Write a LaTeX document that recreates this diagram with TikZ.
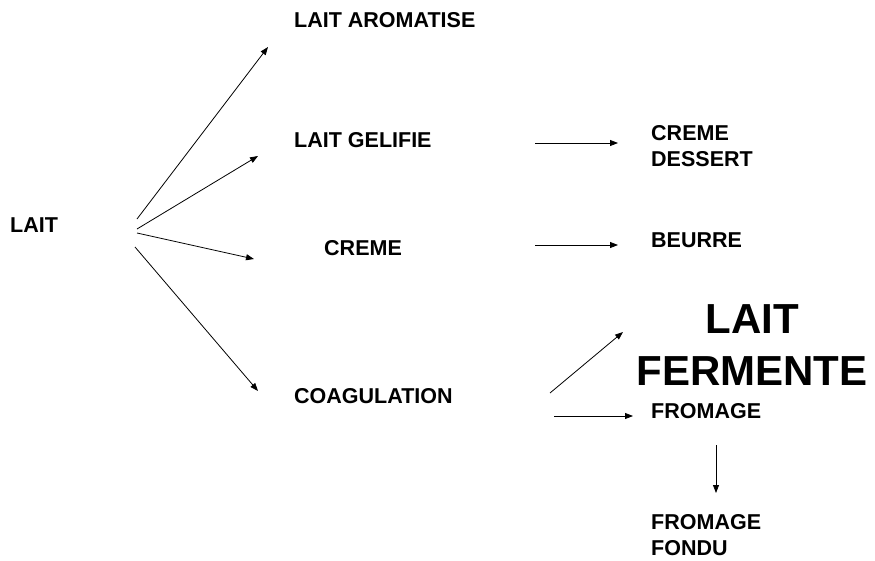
\documentclass[tikz,border=0pt]{standalone}
\usepackage{fontspec}
\setmainfont{Liberation Sans}
\usepackage{tikz}
\usetikzlibrary{arrows.meta}
\tikzstyle{arrow} = [line width=0.8pt,-{Triangle[length=8pt,width=6pt]}]
\tikzstyle{label} = [inner sep=0pt,anchor=base west,align=left,font=\fontsize{21.5}{26}\selectfont\bfseries]
\tikzstyle{biglabel} = [inner sep=0pt,anchor=base,align=center,font=\fontsize{42}{52}\selectfont\bfseries]

\begin{document}
\begin{tikzpicture}[x=1pt,y=-1pt]
\useasboundingbox (0,0) rectangle (875,560);
\node[label] (lait) at (10,232) {LAIT};
\node[label] (arom) at (294,27) {LAIT AROMATISE};
\node[label] (gelif) at (294,147) {LAIT GELIFIE};
\node[label] (creme) at (324,255) {CREME};
\node[label] (coag) at (294,403) {COAGULATION};
\node[label] (dessert) at (651,166) {CREME\\DESSERT};
\node[label] (beurre) at (651,247) {BEURRE};
\node[biglabel] (ferm) at (752,385) {LAIT\\FERMENTE};
\node[label] (fromage) at (651,418) {FROMAGE};
\node[label] (fondu) at (651,555) {FROMAGE\\FONDU};
\coordinate (s1) at (137,219);
\coordinate (s2) at (137,229);
\coordinate (s3) at (137,233);
\coordinate (s4) at (135,247);
\coordinate (e1) at (268,47);
\coordinate (e2) at (258,156);
\coordinate (e3) at (254,259);
\coordinate (e4) at (258,391);
\coordinate (s5) at (535,143);
\coordinate (e5) at (618,143);
\coordinate (s6) at (535,245);
\coordinate (e6) at (618,245);
\coordinate (s7) at (550,393);
\coordinate (e7) at (623,332);
\coordinate (s8) at (554,416);
\coordinate (e8) at (633,416);
\coordinate (s9) at (716,445);
\coordinate (e9) at (716,493);
\draw[arrow] (s1) -- (e1);
\draw[arrow] (s2) -- (e2);
\draw[arrow] (s3) -- (e3);
\draw[arrow] (s4) -- (e4);
\draw[arrow] (s5) -- (e5);
\draw[arrow] (s6) -- (e6);
\draw[arrow] (s7) -- (e7);
\draw[arrow] (s8) -- (e8);
\draw[arrow] (s9) -- (e9);
\end{tikzpicture}
\end{document}
